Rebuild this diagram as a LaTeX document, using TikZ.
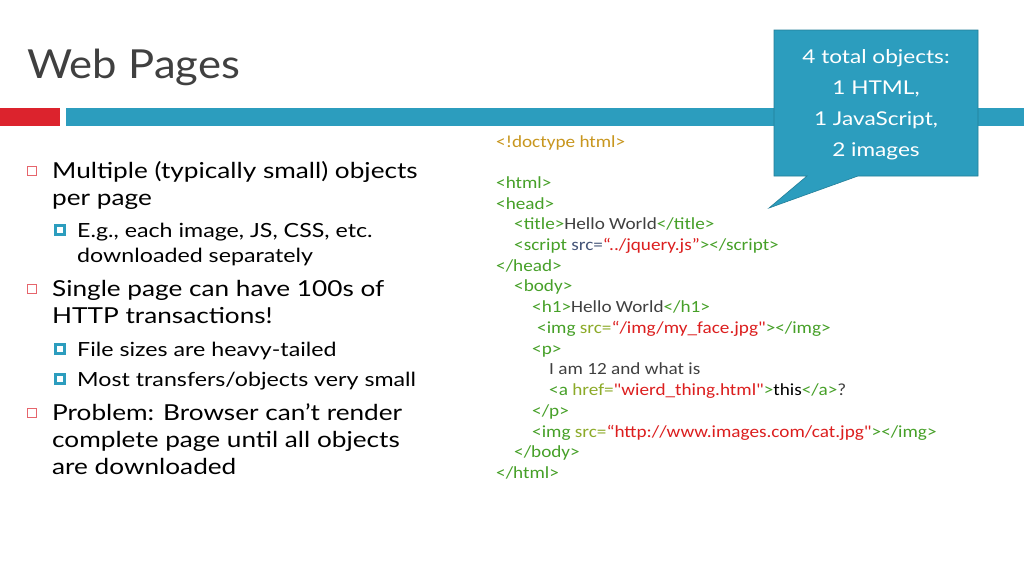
\documentclass[tikz,border=0pt]{standalone}
\usepackage{fontspec}
\setmainfont{Lato}[FakeStretch=1.19]
\newfontfamily\titlefont{Lato}[FakeStretch=1.09]
\newfontfamily\codefont{Carlito}[FakeStretch=1.13]
\definecolor{tl}{RGB}{44,157,190}
\definecolor{rd}{RGB}{220,35,45}
\definecolor{tg}{RGB}{70,160,40}
\definecolor{dt}{RGB}{200,150,30}
\definecolor{at}{RGB}{140,170,40}
\definecolor{sa}{RGB}{68,84,120}
\definecolor{st}{RGB}{220,30,30}
\definecolor{tx}{RGB}{64,64,64}
\newcommand{\tg}[1]{\textcolor{tg}{#1}}
\newcommand{\sr}[1]{\textcolor{st}{#1}}
\begin{document}
\begin{tikzpicture}[x=1pt,y=-1pt,
  lone/.style={anchor=base west,inner sep=0pt,font=\fontsize{22}{26}\selectfont,text=black},
  ltwo/.style={anchor=base west,inner sep=0pt,font=\fontsize{19.5}{24}\selectfont,text=black},
  code/.style={anchor=base west,inner sep=0pt,font=\codefont\fontsize{17}{19}\selectfont,text=tx},
  bone/.style={draw=rd!70,line width=1pt,minimum size=9.5pt,inner sep=0pt},
  btwo/.style={draw=tl,fill=white,line width=2.6pt,minimum size=9pt,inner sep=0pt}]
\useasboundingbox (0,0) rectangle (1024,576);
\fill[white] (0,0) rectangle (1024,576);
\node[anchor=base west,inner sep=0pt,font=\titlefont\fontsize{40}{46}\selectfont,text=tx] (title) at (27,78) {Web Pages};
\fill[rd] (0,108) rectangle (60,126);
\fill[tl] (66,108) rectangle (1024,126);
% bullets
\node[bone] (b1) at (32,171) {};
\node[lone] (t1) at (52,178) {Multiple (typically small) objects};
\node[lone] (t1b) at (52,205) {per page};
\node[btwo] (b2) at (60,230) {};
\node[ltwo] (t2) at (77,237) {E.g., each image, JS, CSS, etc.};
\node[ltwo] (t2b) at (77,262) {downloaded separately};
\node[bone] (b3) at (32,289) {};
\node[lone] (t3) at (52,296) {Single page can have 100s of};
\node[lone] (t3b) at (52,323) {HTTP transactions!};
\node[btwo] (b4) at (60,349) {};
\node[ltwo] (t4) at (77,356) {File sizes are heavy-tailed};
\node[btwo] (b5) at (60,379) {};
\node[ltwo] (t5) at (77,386) {Most transfers/objects very small};
\node[bone] (b6) at (32,413) {};
\node[lone] (t6) at (52,420) {Problem: Browser can’t render};
\node[lone] (t6b) at (52,447) {complete page until all objects};
\node[lone] (t6c) at (52,474) {are downloaded};
% code
\node[code] (c1) at (496,147) {\textcolor{dt}{<!doctype html>}};
\node[code] (c2) at (496,188) {\tg{<html>}};
\node[code] (c3) at (496,209) {\tg{<head>}};
\node[code] (c4) at (514,229) {\tg{<title>}Hello World\tg{</title>}};
\node[code] (c5) at (514,250) {\tg{<script} \textcolor{sa}{src=}\sr{“../jquery.js”}\tg{></script>}};
\node[code] (c6) at (496,271) {\tg{</head>}};
\node[code] (c7) at (514,291) {\tg{<body>}};
\node[code] (c8) at (532,312) {\tg{<h1>}Hello World\tg{</h1>}};
\node[code] (c9) at (537,333) {\tg{<img} \textcolor{at}{src=}\sr{“/img/my\_face.jpg"}\tg{></img>}};
\node[code] (c10) at (532,354) {\tg{<p>}};
\node[code] (c11) at (549,374) {I am 12 and what is};
\node[code] (c12) at (549,395) {\tg{<a} \textcolor{at}{href=}\sr{"wierd\_thing.html"}\tg{>}\textcolor{black}{this}\tg{</a>}?};
\node[code] (c13) at (532,416) {\tg{</p>}};
\node[code] (c14) at (532,437) {\tg{<img} \textcolor{at}{src=}\sr{“http://www.images.com/cat.jpg"}\tg{></img>}};
\node[code] (c15) at (514,457) {\tg{</body>}};
\node[code] (c16) at (496,478) {\tg{</html>}};
% callout
\filldraw[fill=tl,draw=tl!80!black,line width=0.6pt] (774,30) -- (978,30) -- (978,176) -- (858,176) -- (769,208) -- (807,176) -- (774,176) -- cycle;
\node[align=center,text=white,font=\fontsize{19}{31}\selectfont,inner sep=0pt] (call) at (876,105) {4 total objects:\\1 HTML,\\1 JavaScript,\\2 images};
\end{tikzpicture}
\end{document}
